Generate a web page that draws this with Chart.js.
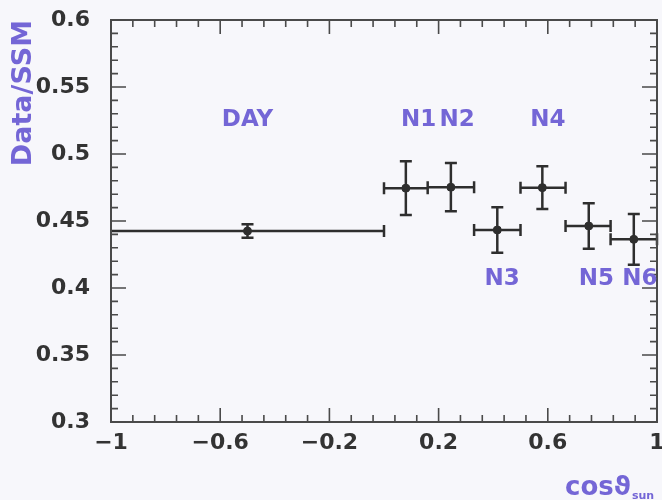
<!DOCTYPE html>
<html>
<head>
<meta charset="utf-8">
<script src="https://cdn.jsdelivr.net/npm/chart.js@4.4.0/dist/chart.umd.min.js"></script>
<style>
  html, body { margin: 0; padding: 0; background: #f7f7fb; }
  #wrap { width: 662px; height: 500px; }
</style>
</head>
<body>
<div id="wrap"><canvas id="chart" width="662" height="500"></canvas></div>
<script>
// --- Data ---
const binNames = ['DAY', 'N1', 'N2', 'N3', 'N4', 'N5', 'N6'];
const xCenter  = [-0.5, 0.08, 0.245, 0.415, 0.58, 0.75, 0.915];
const xLow     = [-1, 0, 0.16, 0.33, 0.5, 0.665, 0.83];
const xHigh    = [0, 0.16, 0.33, 0.5, 0.665, 0.83, 1.0];
const ratio    = [0.4425, 0.4745, 0.4752, 0.4433, 0.4749, 0.4463, 0.4363];
const ratioErr = [0.005, 0.020, 0.018, 0.017, 0.016, 0.017, 0.019];

// label positions (data coords)
const labelX = [-0.5, 0.127, 0.268, 0.433, 0.6, 0.778, 0.937];
const labelY = [0.525, 0.525, 0.525, 0.4067, 0.525, 0.4067, 0.4067];

const xTicks = [-1, -0.6, -0.2, 0.2, 0.6, 1];
const yTicks = [0.3, 0.35, 0.4, 0.45, 0.5, 0.55, 0.6];

const inkColor = '#2e2e2e';
const blueText = '#7466d6';

// --- Plugin: background, frame, inward ticks ---
const framePlugin = {
  id: 'frame',
  beforeDraw(chart) {
    const ctx = chart.ctx;
    ctx.save();
    ctx.fillStyle = '#f7f7fb';
    ctx.fillRect(0, 0, chart.width, chart.height);
    ctx.restore();
  },
  afterDraw(chart) {
    const { ctx, chartArea: a, scales } = chart;
    const xs = scales.x, ys = scales.y;
    ctx.save();
    ctx.strokeStyle = '#4a4a4a';
    ctx.lineWidth = 2;
    ctx.strokeRect(a.left, a.top, a.right - a.left, a.bottom - a.top);

    ctx.lineWidth = 1.6;
    // x ticks (minor every 0.08, major every 0.4)
    for (let i = 0; i <= 25; i++) {
      const v = -1 + i * 0.08;
      const px = xs.getPixelForValue(v);
      const len = (i % 5 === 0) ? 14 : 7;
      ctx.beginPath();
      ctx.moveTo(px, a.bottom); ctx.lineTo(px, a.bottom - len);
      ctx.moveTo(px, a.top); ctx.lineTo(px, a.top + len);
      ctx.stroke();
    }
    // y ticks (minor every 0.01, major every 0.05)
    for (let i = 0; i <= 30; i++) {
      const v = 0.3 + i * 0.01;
      const py = ys.getPixelForValue(v);
      const len = (i % 5 === 0) ? 15 : 7;
      ctx.beginPath();
      ctx.moveTo(a.left, py); ctx.lineTo(a.left + len, py);
      ctx.moveTo(a.right, py); ctx.lineTo(a.right - len, py);
      ctx.stroke();
    }
    ctx.restore();

    // bin labels
    ctx.save();
    ctx.fillStyle = blueText;
    ctx.font = 'bold 23px "DejaVu Sans"';
    ctx.textAlign = 'center';
    ctx.textBaseline = 'middle';
    binNames.forEach((name, i) => {
      ctx.fillText(name, xs.getPixelForValue(labelX[i]), ys.getPixelForValue(labelY[i]));
    });

    // x title: cos(theta) with "sun" subscript
    ctx.textAlign = 'left';
    ctx.textBaseline = 'alphabetic';
    ctx.font = 'bold 26px "DejaVu Sans"';
    ctx.fillText('cosϑ', 565, 495);
    const w = ctx.measureText('cosϑ').width;
    ctx.font = 'bold 11px "DejaVu Sans"';
    ctx.fillText('sun', 565 + w + 1, 499);
    ctx.restore();
  }
};

// --- Plugin: error bars ---
const errorBarPlugin = {
  id: 'errorBars',
  afterDatasetsDraw(chart) {
    const { ctx, scales } = chart;
    const xs = scales.x, ys = scales.y;
    const cap = 6;
    ctx.save();
    ctx.strokeStyle = inkColor;
    ctx.lineWidth = 2.5;
    ctx.beginPath();
    ratio.forEach((r, i) => {
      const cx = xs.getPixelForValue(xCenter[i]);
      const cy = ys.getPixelForValue(r);
      const x1 = xs.getPixelForValue(xLow[i]);
      const x2 = xs.getPixelForValue(xHigh[i]);
      const y1 = ys.getPixelForValue(r + ratioErr[i]);
      const y2 = ys.getPixelForValue(r - ratioErr[i]);
      // horizontal bar + caps
      ctx.moveTo(x1, cy); ctx.lineTo(x2, cy);
      if (xLow[i] > -1) { ctx.moveTo(x1, cy - cap); ctx.lineTo(x1, cy + cap); }
      ctx.moveTo(x2, cy - cap); ctx.lineTo(x2, cy + cap);
      // vertical bar + caps
      ctx.moveTo(cx, y1); ctx.lineTo(cx, y2);
      ctx.moveTo(cx - cap, y1); ctx.lineTo(cx + cap, y1);
      ctx.moveTo(cx - cap, y2); ctx.lineTo(cx + cap, y2);
    });
    ctx.stroke();
    ctx.restore();
  }
};

const ctx = document.getElementById('chart').getContext('2d');
new Chart(ctx, {
  type: 'scatter',
  data: {
    datasets: [{
      label: 'Data/SSM',
      data: xCenter.map((x, i) => ({ x: x, y: ratio[i] })),
      backgroundColor: inkColor,
      borderColor: inkColor,
      pointRadius: 4,
      pointHoverRadius: 4
    }]
  },
  options: {
    responsive: false,
    animation: false,
    events: [],
    layout: { padding: { top: 20, right: 1, left: 0, bottom: 0 } },
    plugins: {
      legend: { display: false },
      tooltip: { enabled: false }
    },
    scales: {
      x: {
        type: 'linear',
        min: -1,
        max: 1,
        afterBuildTicks(scale) { scale.ticks = xTicks.map(v => ({ value: v })); },
        afterFit(scale) { scale.height = 78; scale.paddingLeft = 0; scale.paddingRight = 0; },
        grid: { display: false, drawTicks: false },
        border: { display: false },
        ticks: {
          padding: 8,
          color: '#333',
          font: { family: '"DejaVu Sans"', size: 22, weight: 'bold' },
          maxRotation: 0,
          autoSkip: false,
          callback: (v) => String(v).replace('-', '\u2212')
        }
      },
      y: {
        type: 'linear',
        min: 0.3,
        max: 0.6,
        afterBuildTicks(scale) { scale.ticks = yTicks.map(v => ({ value: v })); },
        afterFit(scale) { scale.width = 111; scale.paddingTop = 0; scale.paddingBottom = 0; },
        grid: { display: false, drawTicks: false },
        border: { display: false },
        ticks: {
          padding: 21,
          color: '#333',
          font: { family: '"DejaVu Sans"', size: 22, weight: 'bold' },
          autoSkip: false,
          callback: (v) => String(v)
        },
        title: {
          display: true,
          text: 'Data/SSM',
          align: 'end',
          color: blueText,
          font: { family: '"DejaVu Sans"', size: 27, weight: 'bold' },
          padding: { top: 8, bottom: 0 }
        }
      }
    }
  },
  plugins: [framePlugin, errorBarPlugin]
});
</script>
</body>
</html>
